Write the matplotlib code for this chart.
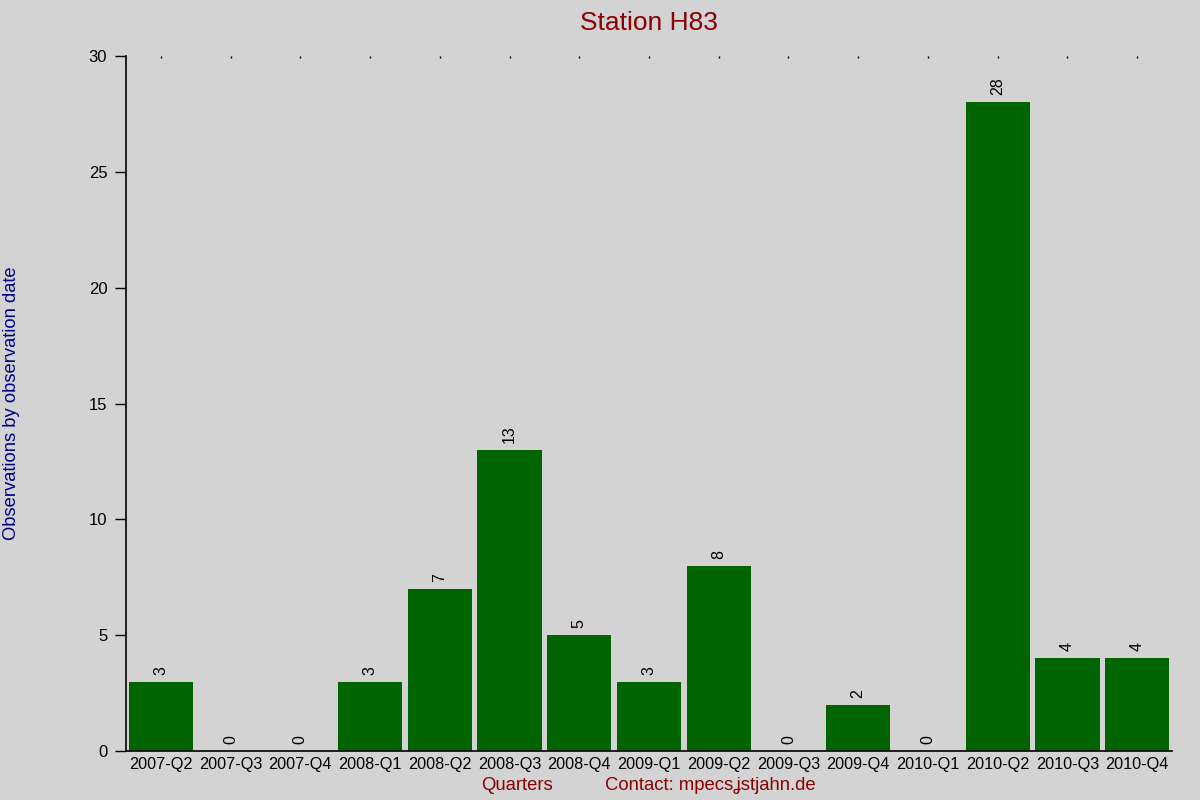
import numpy as np
import matplotlib.pyplot as plt

plt.rcParams['font.family'] = ['Liberation Sans', 'DejaVu Sans']

quarters = ['2007-Q2', '2007-Q3', '2007-Q4', '2008-Q1', '2008-Q2', '2008-Q3',
            '2008-Q4', '2009-Q1', '2009-Q2', '2009-Q3', '2009-Q4', '2010-Q1',
            '2010-Q2', '2010-Q3', '2010-Q4']
observations = [3, 0, 0, 3, 7, 13, 5, 3, 8, 0, 2, 0, 28, 4, 4]
y_ticks = [0, 5, 10, 15, 20, 25, 30]

fondo = '#d3d3d3'
fig = plt.figure(figsize=(12, 8), dpi=100, facecolor=fondo)
ax = fig.add_axes([0.105, 0.06125, 0.8717, 0.86875], facecolor=fondo)

x = np.arange(len(quarters))
ax.bar(x, observations, width=0.92, color='#006400')

for xi, v in zip(x, observations):
    ax.annotate(str(v), (xi, v), xytext=(0, 5), textcoords='offset points',
                rotation=90, ha='center', va='bottom', fontsize=11.5)

ax.set_xlim(-0.5, 14.5)
ax.set_ylim(0, 30)
ax.set_xticks(x)
ax.set_xticklabels(quarters, fontsize=11.7)
ax.set_yticks(y_ticks)
ax.tick_params(axis='y', length=8, width=1, labelsize=12, pad=5.5)
ax.tick_params(axis='x', bottom=False, top=True, direction='in', length=1.2,
               width=1, pad=4)

for s in ['top', 'right']:
    ax.spines[s].set_visible(False)
ax.spines['left'].set_linewidth(1.2)
ax.spines['bottom'].set_linewidth(1.2)

ax.set_title('Station H83', color='#8b0000', fontsize=19, pad=19)
fig.text(0.0092, 0.496, 'Observations by observation date', rotation=90,
         color='#00008b', fontsize=13.2, ha='center', va='center')
fig.text(0.431, 0.0175, 'Quarters', color='#8b0000', fontsize=13.3,
         ha='center', va='center')
fig.text(0.5917, 0.0175, 'Contact: mpecs\u029dstjahn.de', color='#8b0000',
         fontsize=13.3, ha='center', va='center')

plt.savefig('out.png', dpi=100, facecolor=fondo)
